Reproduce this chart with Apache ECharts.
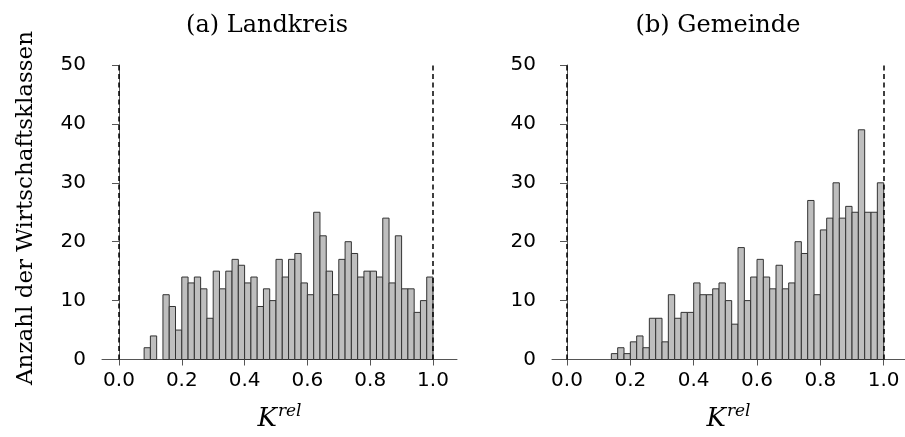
<!DOCTYPE html>
<html>
<head>
<meta charset="utf-8">
<script src="https://cdn.jsdelivr.net/npm/echarts@6/dist/echarts.min.js"></script>
<style>
  html, body { margin: 0; padding: 0; background: #fff; }
  #chart { width: 905px; height: 437px; }
</style>
</head>
<body>
<div id="chart"></div>
<script>
// Histogram counts per bin of width 0.02 on [0, 1]
const binWidth = 0.02;
const landkreisCounts = [
  0, 0, 0, 0, 2, 4, 0, 11, 9, 5,
  14, 13, 14, 12, 7, 15, 12, 15, 17, 16,
  13, 14, 9, 12, 10, 17, 14, 17, 18, 13,
  11, 25, 21, 15, 11, 17, 20, 18, 14, 15,
  15, 14, 24, 13, 21, 12, 12, 8, 10, 14
];
const gemeindeCounts = [
  0, 0, 0, 0, 0, 0, 0, 1, 2, 1,
  3, 4, 2, 7, 7, 3, 11, 7, 8, 8,
  13, 11, 11, 12, 13, 10, 6, 19, 10, 14,
  17, 14, 12, 16, 12, 13, 20, 18, 27, 11,
  22, 24, 30, 24, 26, 25, 39, 25, 25, 30
];
const xTicks = [0, 0.2, 0.4, 0.6, 0.8, 1.0];
const yTicks = [0, 10, 20, 30, 40, 50];
const panelTitles = ['(a) Landkreis', '(b) Gemeinde'];
const yTitle = 'Anzahl der Wirtschaftsklassen';

function toBins(counts) {
  return counts.map((c, i) => [i * binWidth, (i + 1) * binWidth, c]);
}

function renderBar(params, api) {
  const c = api.value(2);
  if (!c) return null;
  const p0 = api.coord([api.value(0), c]);
  const p1 = api.coord([api.value(1), 0]);
  return {
    type: 'rect',
    shape: { x: p0[0], y: p0[1], width: p1[0] - p0[0], height: p1[1] - p0[1] },
    style: { fill: '#bebebe', stroke: '#333', lineWidth: 1 }
  };
}

const tickFont = { fontFamily: 'DejaVu Sans', fontSize: 20, color: '#000' };
const axisGray = '#555';
const serifTitle = { fontFamily: 'DejaVu Serif', fontSize: 24, fontWeight: 'normal', color: '#000' };

function xAxisFor(idx, min, max) {
  return {
    gridIndex: idx, type: 'value', min: min, max: max,
    axisLine: { show: true, onZero: false, lineStyle: { color: axisGray, width: 1 } },
    axisTick: { show: true, customValues: xTicks, length: 6, lineStyle: { color: axisGray } },
    axisLabel: Object.assign({ customValues: xTicks, margin: 11, formatter: v => v.toFixed(1) }, tickFont),
    splitLine: { show: false },
    name: '{k|K}{s|rel}',
    nameLocation: 'middle',
    nameGap: 44,
    nameTextStyle: {
      rich: {
        k: { fontFamily: 'DejaVu Serif', fontStyle: 'italic', fontSize: 26, color: '#000' },
        s: { fontFamily: 'DejaVu Serif', fontStyle: 'italic', fontSize: 17, color: '#000', padding: [0, 0, 14, 1] }
      }
    }
  };
}

function yAxisFor(idx) {
  return {
    gridIndex: idx, type: 'value', min: 0, max: 50, interval: 10,
    axisLine: { show: true, lineStyle: { color: axisGray, width: 1 } },
    axisTick: { show: true, length: 7, lineStyle: { color: axisGray } },
    axisLabel: Object.assign({ margin: 16, customValues: yTicks }, tickFont),
    splitLine: { show: false }
  };
}

function histSeries(idx, counts) {
  return {
    type: 'custom',
    xAxisIndex: idx, yAxisIndex: idx,
    data: toBins(counts),
    encode: { x: [0, 1], y: 2 },
    renderItem: renderBar,
    silent: true,
    markLine: {
      silent: true,
      symbol: ['none', 'none'],
      label: { show: false },
      lineStyle: { type: [5, 3.5], color: '#000', width: 1.5 },
      data: [{ xAxis: 0 }, { xAxis: 1 }]
    }
  };
}

const chart = echarts.init(document.getElementById('chart'), null, { renderer: 'canvas' });
chart.setOption({
  animation: false,
  backgroundColor: '#fff',
  title: [
    { text: panelTitles[0], left: 262, top: 9, textAlign: 'center', textStyle: serifTitle },
    { text: panelTitles[1], left: 713, top: 9, textAlign: 'center', textStyle: serifTitle }
  ],
  grid: [
    { left: 102, top: 65, width: 355, height: 298 },
    { left: 552, top: 65, width: 353, height: 298 }
  ],
  xAxis: [xAxisFor(0, -0.0541, 1.0764), xAxisFor(1, -0.0474, 1.0673)],
  yAxis: [yAxisFor(0), yAxisFor(1)],
  series: [histSeries(0, landkreisCounts), histSeries(1, gemeindeCounts)],
  graphic: [{
    type: 'text',
    x: 26, y: 208,
    rotation: Math.PI / 2,
    style: {
      text: yTitle,
      fontFamily: 'DejaVu Serif', fontSize: 23, fill: '#000',
      align: 'center', verticalAlign: 'middle'
    }
  }]
});
</script>
</body>
</html>
